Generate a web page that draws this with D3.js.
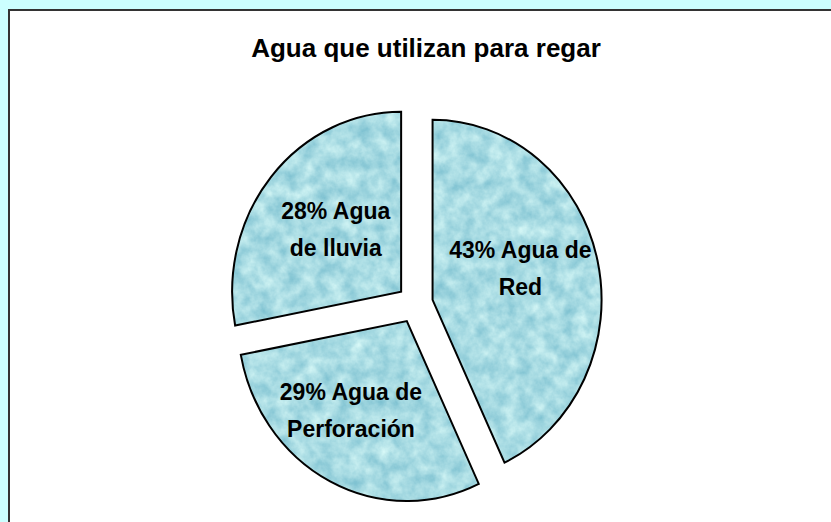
<!DOCTYPE html>
<html>
<head>
<meta charset="utf-8">
<script src="https://cdn.jsdelivr.net/npm/d3@7"></script>
<style>
  body { margin: 0; background: #ccffff; }
  svg { display: block; }
</style>
</head>
<body>
<svg id="chart" width="831" height="522"></svg>
<script>
// data
var categories = ["Agua de Red", "Agua de Perforación", "Agua de lluvia"];
var values = [43, 29, 28];
var labelLines = [["43% Agua de", "Red"], ["29% Agua de", "Perforación"], ["28% Agua", "de lluvia"]];
var labelNudge = [[0, -9], [-15, 6], [4, 0]];
var title = "Agua que utilizan para regar";

var width = 831, height = 522;
var cx = 415, cy = 304;
var radius = 169, yStretch = 1.065;
var explode = 18;

var svg = d3.select("svg#chart");

// water texture
var defs = svg.append("defs");
var filt = defs.append("filter").attr("id", "water")
  .attr("x", 0).attr("y", 0).attr("width", "100%").attr("height", "100%")
  .attr("color-interpolation-filters", "sRGB");
filt.append("feTurbulence")
  .attr("type", "fractalNoise")
  .attr("baseFrequency", "0.07")
  .attr("numOctaves", 4)
  .attr("seed", 7)
  .attr("result", "noise");
filt.append("feColorMatrix")
  .attr("in", "noise")
  .attr("type", "matrix")
  .attr("values", "0.42 0 0 0 0.45  0.26 0 0 0 0.73  0.18 0 0 0 0.8  0 0 0 0 1")
  .attr("result", "col");
filt.append("feComposite").attr("in", "col").attr("in2", "SourceGraphic").attr("operator", "in");

// panel
svg.append("rect")
  .attr("x", 9).attr("y", 10)
  .attr("width", width + 20).attr("height", height + 20)
  .attr("fill", "#fff")
  .attr("stroke", "#333")
  .attr("stroke-width", 2);

svg.append("text")
  .attr("x", 426).attr("y", 57)
  .attr("text-anchor", "middle")
  .attr("font-family", "Liberation Sans, Arial, sans-serif")
  .attr("font-weight", "bold")
  .attr("font-size", 26)
  .text(title);

var pie = d3.pie().sort(null).value(function (d) { return d; });
var arcs = pie(values);
var arc = d3.arc().innerRadius(0).outerRadius(radius);
var labelArc = d3.arc().innerRadius(90).outerRadius(90);

var g = svg.append("g")
  .attr("transform", "translate(" + cx + "," + cy + ") scale(1," + yStretch + ")");

var slice = g.selectAll("g.slice")
  .data(arcs)
  .enter()
  .append("g")
  .attr("class", "slice")
  .attr("transform", function (d) {
    var a = (d.startAngle + d.endAngle) / 2;
    return "translate(" + (Math.sin(a) * explode) + "," + (-Math.cos(a) * explode) + ")";
  });

slice.append("path")
  .attr("d", arc)
  .attr("fill", "#a9dbe6")
  .attr("filter", "url(#water)");

slice.append("path")
  .attr("d", arc)
  .attr("fill", "none")
  .attr("stroke", "#000")
  .attr("stroke-width", 2)
  .attr("vector-effect", "non-scaling-stroke")
  .append("title")
  .text(function (d, i) { return categories[i] + ": " + d.value + "%"; });

// labels, drawn outside the stretched group so text is not distorted
svg.append("g")
  .selectAll("text")
  .data(arcs)
  .enter()
  .append("text")
  .attr("text-anchor", "middle")
  .attr("font-family", "Liberation Sans, Arial, sans-serif")
  .attr("font-weight", "bold")
  .attr("font-size", 23)
  .attr("fill", "#000")
  .attr("transform", function (d, i) {
    var a = (d.startAngle + d.endAngle) / 2;
    var c = labelArc.centroid(d);
    var x = cx + Math.sin(a) * explode + c[0] + labelNudge[i][0];
    var y = cy + (-Math.cos(a) * explode + c[1]) * yStretch + labelNudge[i][1];
    return "translate(" + x + "," + y + ")";
  })
  .each(function (d, i) {
    var t = d3.select(this);
    labelLines[i].forEach(function (line, k) {
      t.append("tspan")
        .attr("x", 0)
        .attr("y", k * 37 - 12)
        .text(line);
    });
  });
</script>
</body>
</html>
